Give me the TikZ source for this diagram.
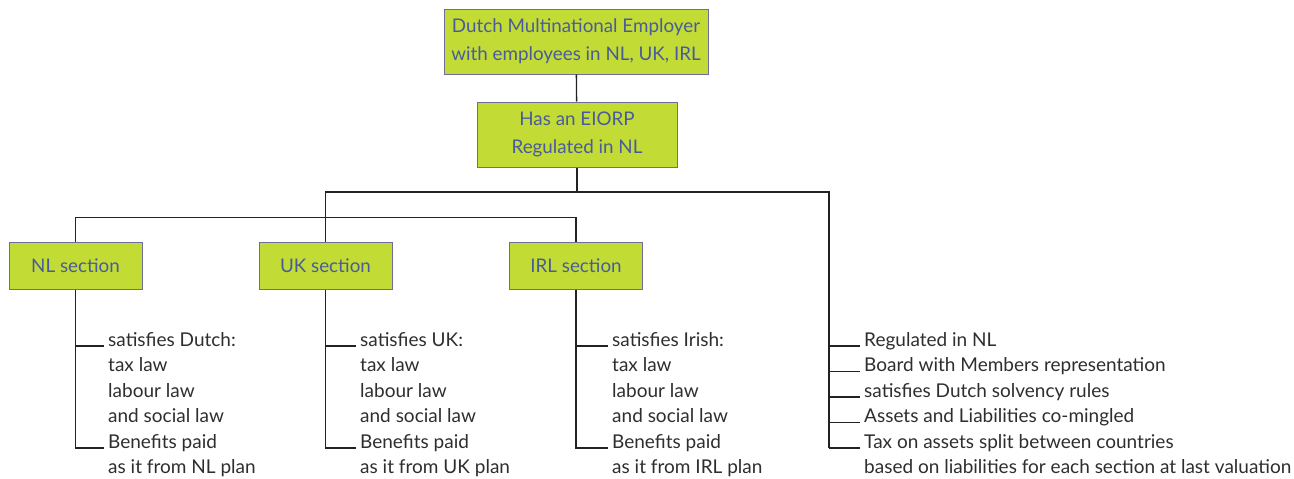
\documentclass[tikz,border=0pt]{standalone}
\usepackage{fontspec}
\setmainfont{Lato}
\begin{document}
\begin{tikzpicture}[x=1pt,y=-1pt,
  box/.style={draw=boxline, fill=boxfill, line width=1pt, text=boxtext,
    align=center, inner sep=0pt, font=\fontsize{18.8}{28}\selectfont},
  item/.style={anchor=base west, inner xsep=4pt, inner ysep=0pt, text=itemtext,
    font=\fontsize{19}{20}\selectfont},
  wire/.style={draw=wirecol, line width=1.3pt}]
\definecolor{boxfill}{HTML}{C3DC35}
\definecolor{boxline}{HTML}{6E6E9A}
\definecolor{boxtext}{HTML}{4A5B9B}
\definecolor{itemtext}{HTML}{2E2E2E}
\definecolor{wirecol}{HTML}{222222}
\useasboundingbox (0,0) rectangle (1294,479);

% boxes
\node[box, minimum width=264pt, minimum height=65pt] (emp) at (576,41.5)
  {Dutch Multinational Employer\\with employees in NL, UK, IRL};
\node[box, minimum width=200pt, minimum height=65pt] (eiorp) at (577,134.5)
  {Has an EIORP\\Regulated in NL};
\node[box, minimum width=133pt, minimum height=47pt] (nl) at (75.5,265.5) {NL section};
\node[box, minimum width=133pt, minimum height=47pt] (uk) at (325.5,265.5) {UK section};
\node[box, minimum width=133pt, minimum height=47pt] (irl) at (576,265.5) {IRL section};

% junction points of the tree
\coordinate (upper) at (829,192);
\coordinate (lower) at (0,217.5);
\coordinate (rbot) at (829,448);

% connectors
\draw[wire] (emp) -- (eiorp);
\draw[wire] (eiorp.south) -- (eiorp.south |- upper);
\draw[wire] (uk.north) |- (upper) -- (rbot);
\draw[wire] (nl.north) |- (irl.north |- lower) -- (irl.north);

% section lists
\foreach \s/\x/\country/\plan in {nl/104/Dutch/NL, uk/356/UK/UK, irl/608/Irish/IRL}{
  \node[item] (\s1) at (\x,346) {satisfies \country:};
  \node[item] (\s2) at (\x,371.5) {tax law};
  \node[item] (\s3) at (\x,397) {labour law};
  \node[item] (\s4) at (\x,422.5) {and social law};
  \node[item] (\s5) at (\x,448) {Benefits paid};
  \node[item] (\s6) at (\x,473.5) {as it from \plan\ plan};
  \draw[wire] (\s.south) |- (\s5.base west);
  \draw[wire] (\s.south |- \s1.base) -- (\s1.base west);
}

% plan-wide features
\node[item] (f1) at (860,346) {Regulated in NL};
\node[item] (f2) at (860,371.5) {Board with Members representation};
\node[item] (f3) at (860,397) {satisfies Dutch solvency rules};
\node[item] (f4) at (860,422.5) {Assets and Liabilities co-mingled};
\node[item] (f5) at (860,448) {Tax on assets split between countries};
\node[item] (f6) at (860,473.5) {based on liabilities for each section at last valuation};
\foreach \i in {1,...,5}{
  \draw[wire] (upper |- f\i.base) -- (f\i.base west);
}
\end{tikzpicture}
\end{document}
